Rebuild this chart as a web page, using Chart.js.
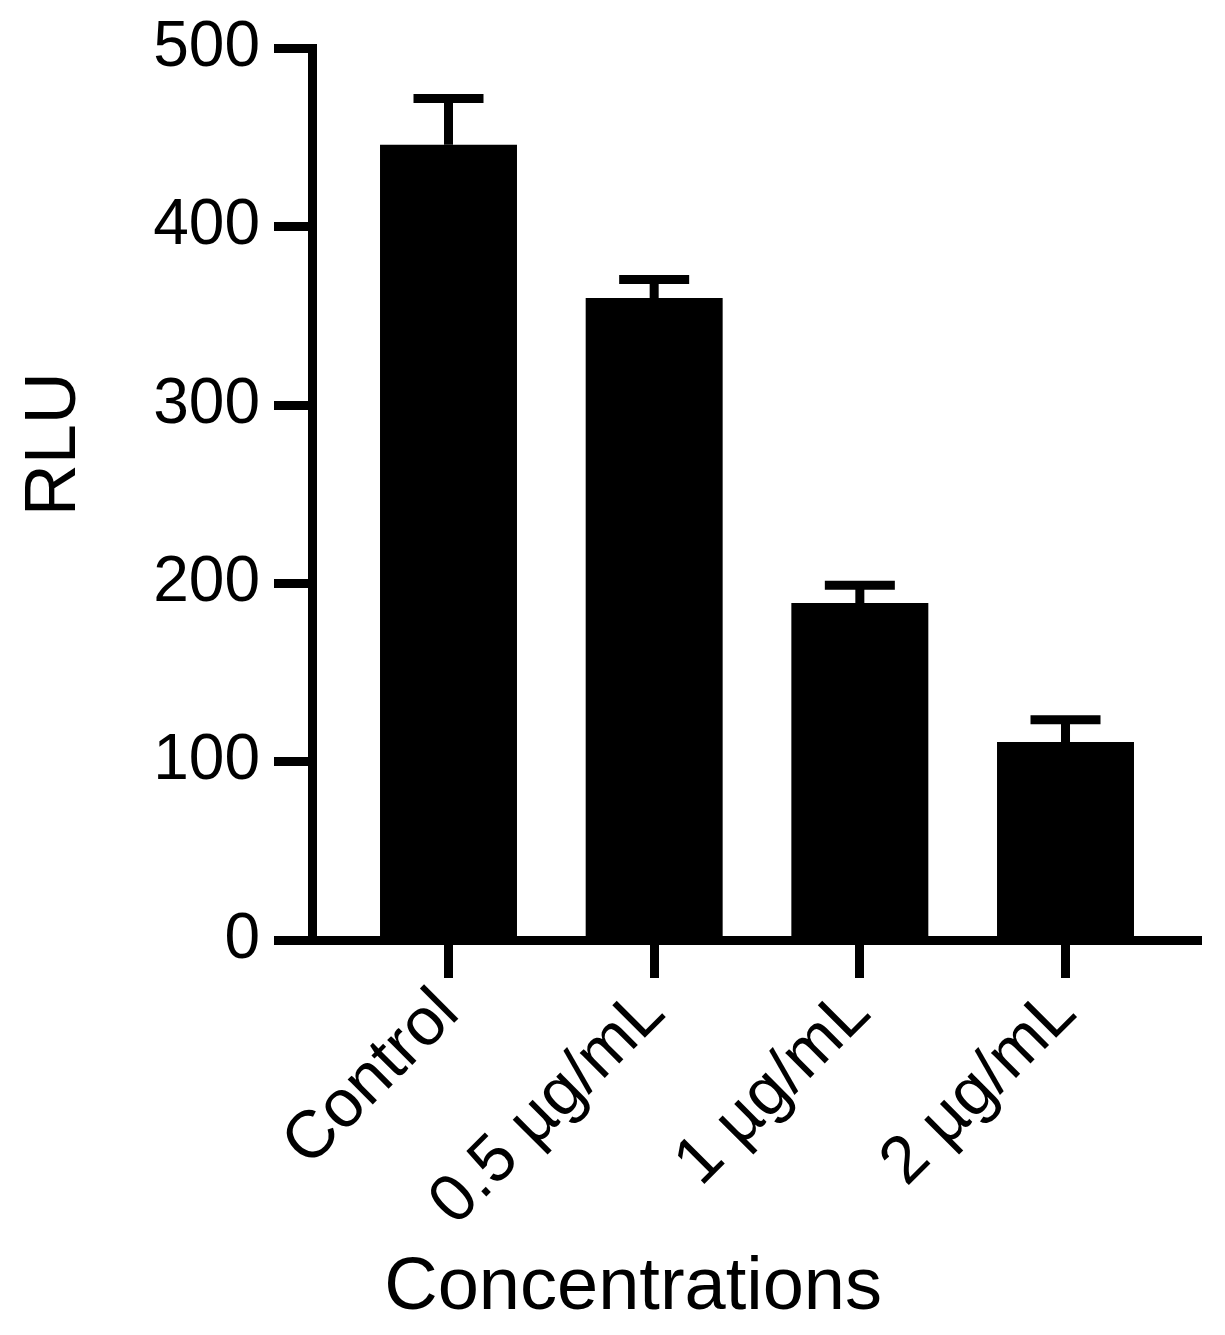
<!DOCTYPE html>
<html>
<head>
<meta charset="utf-8">
<title>RLU</title>
<script src="https://cdn.jsdelivr.net/npm/chart.js@4/dist/chart.umd.min.js"></script>
<style>
  html, body { margin: 0; padding: 0; background: #fff; }
  canvas { display: block; }
</style>
</head>
<body>
<canvas id="rluChart" width="1225" height="1335"></canvas>
<script>
// valeurs
const categories = ['Control', '0.5 µg/mL', '1 µg/mL', '2 µg/mL'];
const rluMeans = [446, 360, 189, 111];
const rluSd = [26, 10.5, 10, 12.5];
const yTickValues = [0, 100, 200, 300, 400, 500];

const FONT = '"Liberation Sans", Arial, Helvetica, sans-serif';
Chart.defaults.color = '#000';
Chart.defaults.font.family = FONT;

// barres d'erreur (seulement vers le haut)
const errorBars = {
  id: 'errorBars',
  afterDatasetsDraw(chart) {
    const ctx = chart.ctx;
    const yScale = chart.scales.y;
    const meta = chart.getDatasetMeta(0);
    ctx.save();
    ctx.strokeStyle = '#000';
    ctx.lineWidth = 9;
    ctx.lineCap = 'butt';
    meta.data.forEach((bar, i) => {
      const top = yScale.getPixelForValue(rluMeans[i] + rluSd[i]);
      ctx.beginPath();
      ctx.moveTo(bar.x, bar.y);
      ctx.lineTo(bar.x, top);
      ctx.moveTo(bar.x - 35, top);
      ctx.lineTo(bar.x + 35, top);
      ctx.stroke();
    });
    ctx.restore();
  }
};

new Chart(document.getElementById('rluChart'), {
  type: 'bar',
  data: {
    datasets: [{
      data: rluMeans.map((v, i) => ({ x: i, y: v })),
      backgroundColor: '#000',
      borderWidth: 0,
      categoryPercentage: 1,
      barPercentage: 0.666,
    }],
  },
  options: {
    responsive: false,
    devicePixelRatio: 1,
    animation: false,
    layout: { padding: { left: 0, top: 48.5, right: 24, bottom: 0 } },
    plugins: { legend: { display: false }, tooltip: { enabled: false } },
    scales: {
      x: {
        type: 'linear',
        offset: false,
        min: -0.6637,
        max: 3.6588,
        afterBuildTicks: (scale) => {
          scale.ticks = categories.map((c, i) => ({ value: i }));
        },
        afterFit: (scale) => {
          scale.height = 395;
          scale.paddingLeft = 0;
          scale.paddingRight = 0;
        },
        ticks: {
          autoSkip: false,
          minRotation: 45,
          maxRotation: 45,
          padding: -4,
          font: { size: 67 },
          callback: (v) => categories[v],
        },
        grid: {
          offset: false,
          drawOnChartArea: false,
          drawTicks: true,
          tickLength: 38,
          tickWidth: 9,
          tickColor: '#000',
        },
        border: { display: true, color: '#000', width: 9 },
        title: {
          display: true,
          text: 'Concentrations            ',
          font: { size: 74 },
          padding: { top: 0, bottom: 2 },
        },
      },
      y: {
        min: 0,
        max: 500,
        afterBuildTicks: (scale) => {
          scale.ticks = yTickValues.map((v) => ({ value: v }));
        },
        afterFit: (scale) => {
          scale.width = 312;
          scale.paddingTop = 0;
          scale.paddingBottom = 0;
        },
        ticks: {
          padding: 14,
          font: { size: 64 },
        },
        grid: {
          drawOnChartArea: false,
          drawTicks: true,
          tickLength: 38,
          tickWidth: 9,
          tickColor: '#000',
        },
        border: { display: true, color: '#000', width: 9 },
        title: {
          display: true,
          text: '     RLU',
          font: { size: 72 },
          padding: { top: 12, bottom: 0 },
        },
      },
    },
  },
  plugins: [errorBars],
});
</script>
</body>
</html>
